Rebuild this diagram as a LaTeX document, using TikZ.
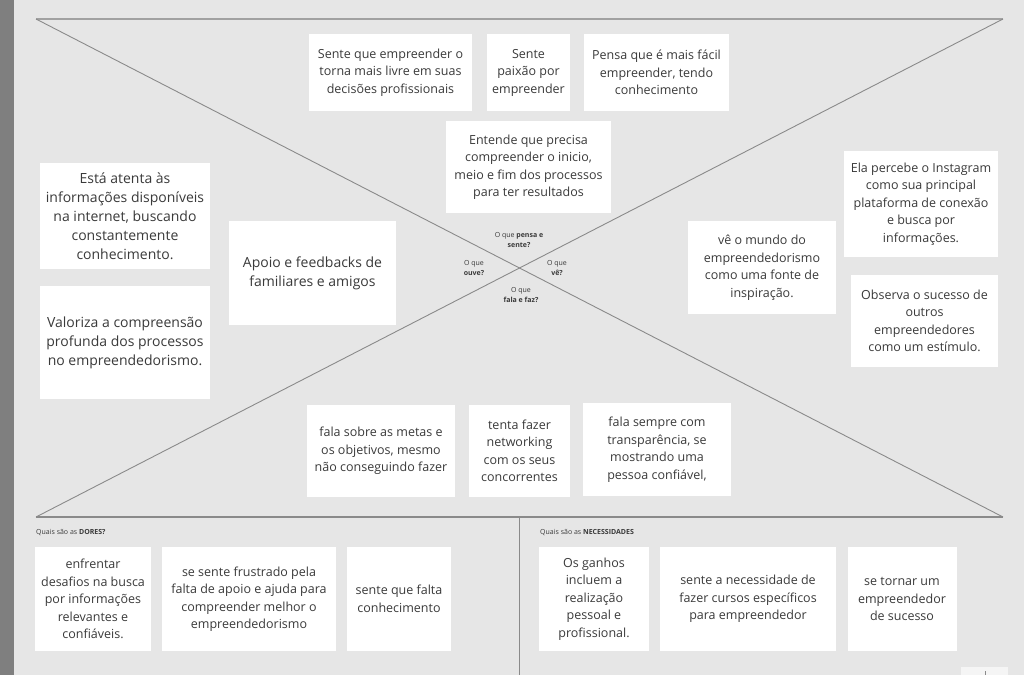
\documentclass[tikz,border=0pt]{standalone}
\usepackage{fontspec}
\setmainfont{Open Sans}
\definecolor{paper}{HTML}{E6E6E6}
\definecolor{strip}{HTML}{7F7F7F}
\definecolor{ink}{HTML}{3A3A3A}
\definecolor{rule}{HTML}{8A8A8A}

\begin{document}
\begin{tikzpicture}[x=1pt,y=-1pt,
    card/.style={fill=white, text=ink, align=center, inner sep=0pt,
      font=\fontsize{12.5}{17.5}\selectfont},
    bigcard/.style={card, font=\fontsize{14}{19}\selectfont},
    tag/.style={text=ink, align=center, inner sep=0pt,
      font=\fontsize{7}{10}\selectfont},
    guide/.style={draw=rule, line width=0.9pt}]
          \fill[paper] (0,0) rectangle (1024,675);
          \useasboundingbox (0,0) rectangle (1024,675);
          \fill[strip] (0,0) rectangle (14,675);

          % frame of the map
          \coordinate (tl) at (36,19);
          \coordinate (tr) at (1003,19);
          \coordinate (bl) at (36,517);
          \coordinate (br) at (1003,517);
          \coordinate (mt) at (519,517);
          \coordinate (mb) at (519,675);
          \draw[draw=rule!80, line width=2pt] (tl) -- (tr);
          \draw[guide] (tl) -- (br);
          \draw[guide] (tr) -- (bl);
          \draw[guide, line width=1.3pt] (bl) -- (br);
          \draw[guide] (mt) -- (mb);

          % centre labels
          \node[tag] (qpensa) at (519,240.5) {O que \textbf{pensa e}\\\textbf{sente?}};
          \node[tag] (qouve) at (474,268) {O que\\\textbf{ouve?}};
          \node[tag] (qve) at (557,268) {O que\\\textbf{vê?}};
          \node[tag] (qfala) at (521,295) {O que\\\textbf{fala e faz?}};

          % pensa e sente
          \node[card, minimum width=163, minimum height=77] (pensa1) at (390.5,72.5)
            {Sente que empreender o\\torna mais livre em suas\\decisões profissionais};
          \node[card, minimum width=83, minimum height=77] (pensa2) at (528.5,72.5)
            {Sente\\paixão por\\empreender};
          \node[card, minimum width=145, minimum height=77] (pensa3) at (656.5,72.5)
            {Pensa que é mais fácil\\empreender, tendo\\conhecimento};
          \node[card, minimum width=165, minimum height=92] (pensa4) at (528.5,167)
            {Entende que precisa\\compreender o inicio,\\meio e fim dos processos\\para ter resultados};

          % ouve
          \node[bigcard, minimum width=170, minimum height=106] (ouve1) at (125,216)
            {Está atenta às\\informações disponíveis\\na internet, buscando\\constantemente\\conhecimento.};
          \node[bigcard, minimum width=167, minimum height=104] (ouve2) at (312.5,273)
            {Apoio e feedbacks de\\familiares e amigos};
          \node[bigcard, minimum width=170, minimum height=113] (ouve3) at (125,342.5)
            {Valoriza a compreensão\\profunda dos processos\\no empreendedorismo.};

          % ve
          \node[card, minimum width=148, minimum height=93] (ve1) at (762,267.5)
            {vê o mundo do\\empreendedorismo\\como uma fonte de\\inspiração.};
          \node[card, minimum width=154, minimum height=106] (ve2) at (921,204)
            {Ela percebe o Instagram\\como sua principal\\plataforma de conexão\\e busca por\\informações.};
          \node[card, minimum width=147, minimum height=92] (ve3) at (924.5,321)
            {Observa o sucesso de\\outros\\empreendedores\\como um estímulo.};

          % fala e faz
          \node[card, minimum width=148, minimum height=92] (fala1) at (381,451)
            {fala sobre as metas e\\os objetivos, mesmo\\não conseguindo fazer};
          \node[card, minimum width=101, minimum height=92] (fala2) at (519.5,451)
            {tenta fazer\\networking\\com os seus\\concorrentes};
          \node[card, minimum width=148, minimum height=93] (fala3) at (657,449.5)
            {fala sempre com\\transparência, se\\mostrando uma\\pessoa confiável,};

          % dores e necessidades
          \node[tag, anchor=west] (hdor) at (36,533) {Quais são as \textbf{DORES?}};
          \node[tag, anchor=west] (hnec) at (540,533) {Quais são as \textbf{NECESSIDADES}};

          \node[card, minimum width=116, minimum height=104] (dor1) at (93,599)
            {enfrentar\\desafios na busca\\por informações\\relevantes e\\confiáveis.};
          \node[card, minimum width=174, minimum height=104] (dor2) at (249,599)
            {se sente frustrado pela\\falta de apoio e ajuda para\\compreender melhor o\\empreendedorismo};
          \node[card, minimum width=104, minimum height=104] (dor3) at (399,599)
            {sente que falta\\conhecimento};
          \node[card, minimum width=110, minimum height=104] (nec1) at (594,599)
            {Os ganhos\\incluem a\\realização\\pessoal e\\profissional.};
          \node[card, minimum width=176, minimum height=104] (nec2) at (748,599)
            {sente a necessidade de\\fazer cursos específicos\\para empreendedor};
          \node[card, minimum width=109, minimum height=104] (nec3) at (902,599)
            {se tornar um\\empreendedor\\de sucesso};

          \fill[white!60!paper] (961,667) rectangle (1008,675);
          \fill[rule] (984.5,671) rectangle (985.5,675);
        \end{tikzpicture}
\end{document}
